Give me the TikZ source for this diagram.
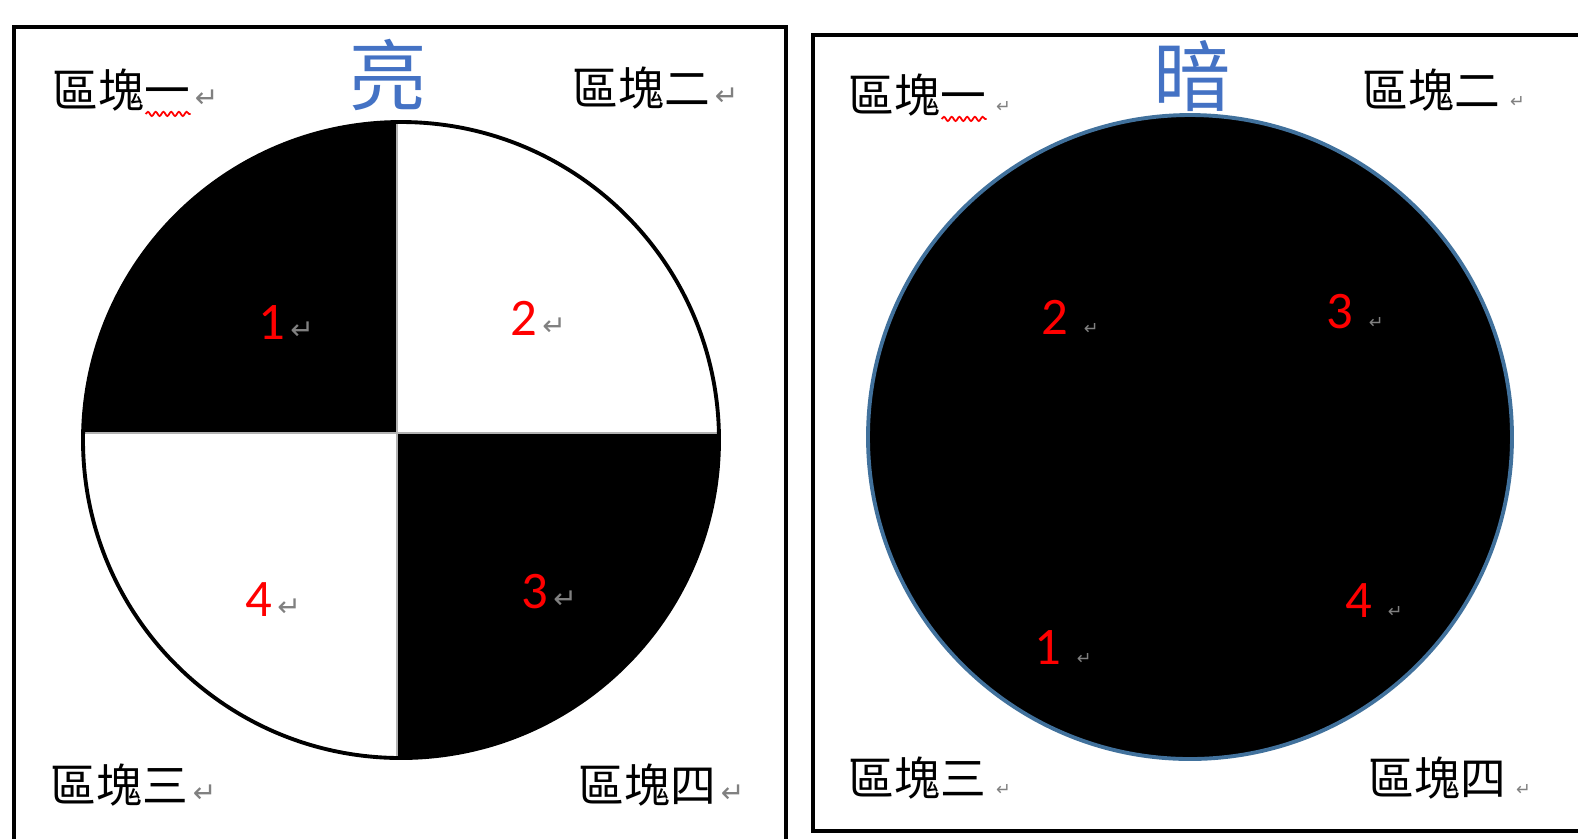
\documentclass[tikz,border=0pt]{standalone}
\usepackage{fontspec}
\setmainfont{Carlito}
\newfontfamily\cjk{Noto Sans CJK TC}
\newfontfamily\symf{DejaVu Sans}
\usetikzlibrary{positioning, decorations.pathmorphing, calc}
\definecolor{wordblue}{RGB}{68,114,196}
\definecolor{rimblue}{RGB}{65,113,156}
\definecolor{markgray}{RGB}{128,128,128}

\tikzset{
  blk/.style={font=\cjk\fontsize{13}{13}\selectfont, inner sep=0pt, anchor=west},
  title/.style={font=\cjk\fontsize{22}{22}\selectfont, text=wordblue, inner sep=0pt},
  num/.style={font=\fontsize{15}{15}\selectfont, text=red, inner sep=0pt},
  ret/.style={font=\symf\fontsize{8}{8}\selectfont, text=markgray, inner sep=0pt, anchor=base west},
  retsm/.style={ret, font=\symf\fontsize{5}{5}\selectfont},
  squiggle/.style={red, line width=0.5pt, decorate,
                   decoration={snake, amplitude=0.6pt, segment length=2.2pt}}
}

\begin{document}
\begin{tikzpicture}[x=0.01cm, y=-0.01cm]
  \path[use as bounding box] (0,0) rectangle (1578,838);
  \clip (0,0) rectangle (1578,838);

  % panels
  \draw[line width=1.1pt] (14,27) rectangle (786,860);
  \draw[line width=0.9pt] (813,35) rectangle (1600,831);

  % bright disc, four quadrants
  \begin{scope}
    \clip (401,440) circle (318);
    \fill (0,0) rectangle (397,433);
    \fill (397,433) rectangle (800,800);
    \draw[gray!60, line width=0.4pt] (397,100) -- (397,780) (60,433) -- (740,433);
  \end{scope}
  \draw[line width=1.1pt] (401,440) circle (318);

  % dark disc
  \filldraw[fill=black, draw=rimblue, line width=1.1pt] (1190,437) circle (322);

  % titles
  \node[title] (liang) at (388,75) {亮};
  \node[title] (an) at (1192,76) {暗};

  % block labels, bright
  \node[blk] (b1L) at (52,90) {區塊一};
  \node[blk] (b2L) at (572,88) {區塊二};
  \node[blk] (b3L) at (50,785) {區塊三};
  \node[blk] (b4L) at (578,785) {區塊四};
  \foreach \n in {b1L,b2L,b3L,b4L}
    \node[ret] at ([xshift=1pt]\n.base east) {↵};
  \draw[squiggle] ($(b1L.south east)+(-45,2)$) -- ($(b1L.south east)+(0,2)$);

  % block labels, dark
  \node[blk] (b1R) at (848,95) {區塊一};
  \node[blk] (b2R) at (1362,90) {區塊二};
  \node[blk] (b3R) at (848,778) {區塊三};
  \node[blk] (b4R) at (1368,778) {區塊四};
  \foreach \n in {b1R,b2R,b3R,b4R}
    \node[retsm] at ([xshift=2.5pt]\n.base east) {↵};
  \draw[squiggle] ($(b1R.south east)+(-45,2)$) -- ($(b1R.south east)+(0,2)$);

  % numbers, bright
  \node[num] (n1L) at (272,323) {1};
  \node[num] (n2L) at (524,318) {2};
  \node[num] (n3L) at (535,592) {3};
  \node[num] (n4L) at (259,600) {4};
  \foreach \n in {n1L,n2L,n3L,n4L}
    \node[ret] at ([xshift=1pt]\n.base east) {↵};

  % numbers, dark
  \node[num] (n1R) at (1048,648) {1};
  \node[num] (n2R) at (1055,317) {2};
  \node[num] (n3R) at (1340,312) {3};
  \node[num] (n4R) at (1359,601) {4};
  \foreach \n in {n1R,n2R,n3R,n4R}
    \node[retsm] at ([xshift=4pt]\n.base east) {↵};
\end{tikzpicture}
\end{document}
